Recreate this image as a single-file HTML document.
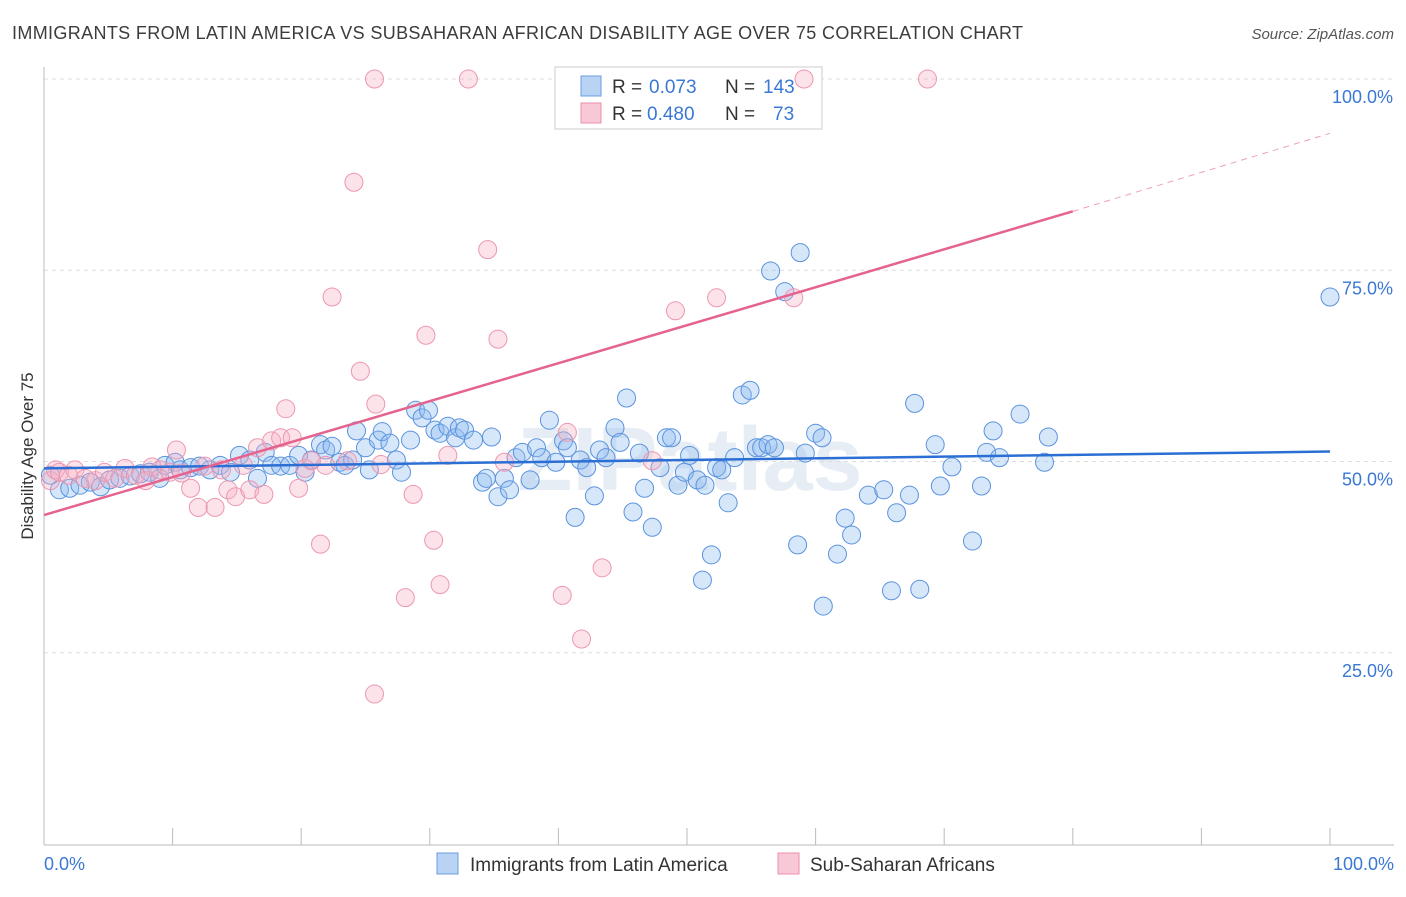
<!DOCTYPE html>
<html><head><meta charset="utf-8"><style>
body{margin:0;background:#fff;font-family:"Liberation Sans",sans-serif;}
svg text{font-family:"Liberation Sans",sans-serif;}
</style></head><body>
<svg id="chart" width="1406" height="892" xmlns="http://www.w3.org/2000/svg">
<text x="12" y="39" font-size="18" fill="#3c3c3c" textLength="1011">IMMIGRANTS FROM LATIN AMERICA VS SUBSAHARAN AFRICAN DISABILITY AGE OVER 75 CORRELATION CHART</text>
<text x="1394" y="39" font-size="15" fill="#555" text-anchor="end" font-style="italic">Source: ZipAtlas.com</text>
<text x="690" y="490" font-size="90" fill="#e6edf5" text-anchor="middle" font-weight="bold">ZIPatlas</text>
<g id="grid"></g>
<g id="axes"></g>
<g>
<rect x="555" y="67" width="267" height="62" fill="#fff" stroke="#ccc"/>
<rect x="581" y="76" width="20" height="20" fill="#b9d3f5" stroke="#6a9be0"/>
<rect x="581" y="103" width="20" height="20" fill="#f9c8d6" stroke="#eb8fab"/>
<text x="612" y="93" font-size="19" fill="#333">R =</text>
<text x="649" y="93" font-size="19" fill="#3a78d4">0.073</text>
<text x="725" y="93" font-size="19" fill="#333">N =</text>
<text x="763" y="93" font-size="19" fill="#3a78d4">143</text>
<text x="612" y="120" font-size="19" fill="#333">R =</text>
<text x="647" y="120" font-size="19" fill="#3a78d4">0.480</text>
<text x="725" y="120" font-size="19" fill="#333">N =</text>
<text x="773" y="120" font-size="19" fill="#3a78d4">73</text>
</g>
<g id="points"></g>
<g id="trends"></g>
<text transform="translate(33,456) rotate(-90)" font-size="17" fill="#333" text-anchor="middle">Disability Age Over 75</text>
<g>
<rect x="437" y="853" width="21" height="21" fill="#b9d3f5" stroke="#6a9be0"/>
<text x="470" y="871" font-size="19" fill="#333">Immigrants from Latin America</text>
<rect x="778" y="853" width="21" height="21" fill="#f9c8d6" stroke="#eb8fab"/>
<text x="810" y="871" font-size="19" fill="#333">Sub-Saharan Africans</text>
</g>
</svg>
<script>
const yTicks=[25,50,75,100];
const yTickLabels=["25.0%","50.0%","75.0%","100.0%"];
const xEndLabels=["0.0%","100.0%"];
const blueX=[0.5,1.2,2.0,2.8,3.6,4.4,5.1,5.9,6.7,7.5,8.2,9.0,9.4,10.2,10.6,11.4,12.1,12.9,13.7,14.5,15.2,16.0,16.6,17.2,17.7,18.4,19.1,19.8,20.3,20.8,21.5,21.9,22.4,23.0,23.4,24.0,24.3,25.0,25.3,26.0,26.3,26.9,27.4,27.8,28.5,28.9,29.4,29.9,30.4,30.8,31.4,32.0,32.3,32.7,33.4,34.1,34.4,34.8,35.3,35.8,36.2,36.7,37.2,37.8,38.3,38.7,39.3,39.8,40.4,40.7,41.3,41.7,42.2,42.8,43.2,43.7,44.4,44.8,45.3,45.8,46.3,46.7,47.3,47.9,48.4,48.8,49.3,49.8,50.2,50.8,51.2,51.4,51.9,52.3,52.7,53.2,53.7,54.3,54.9,55.4,55.8,56.3,56.5,56.8,57.6,58.6,58.8,59.2,60.0,60.5,60.6,61.7,62.3,62.8,64.1,65.3,65.9,66.3,67.3,67.7,68.1,69.3,69.7,70.6,72.2,72.9,73.3,73.8,74.3,75.9,77.8,78.1,100];
const blueY=[48.2,46.3,46.5,46.9,47.3,46.7,47.6,47.8,48.1,48.4,48.6,47.8,49.5,49.9,48.9,49.2,49.4,48.9,49.5,48.6,50.8,50.2,47.8,51.2,49.5,49.4,49.5,50.8,48.6,50.2,52.2,51.5,52.0,49.9,49.5,50.2,54.0,51.8,48.9,52.8,53.9,52.4,50.2,48.6,52.8,56.7,55.7,56.7,54.1,53.7,54.6,53.1,54.4,54.1,52.8,47.3,47.8,53.2,45.4,47.8,46.3,50.5,51.2,47.6,51.8,50.5,55.4,49.9,52.7,51.8,42.7,50.2,49.2,45.5,51.5,50.5,54.4,52.5,58.3,43.4,51.1,46.5,41.4,49.2,53.1,53.1,46.9,48.6,50.8,47.6,34.5,46.9,37.8,49.2,48.9,44.6,50.5,58.7,59.3,51.8,51.8,52.2,74.9,51.8,72.2,39.1,77.3,51.1,53.7,53.1,31.1,37.9,42.6,40.4,45.6,46.3,33.1,43.3,45.6,57.6,33.3,52.2,46.8,49.3,39.6,46.8,51.2,54.0,50.5,56.2,49.9,53.2,71.5];
const pinkX=[0.5,0.9,1.2,1.9,2.4,3.2,4,4.7,5.5,6.3,7.1,7.9,8.4,9,9.8,10.3,10.7,11.4,12,12.5,13.3,13.8,14.3,14.9,15.5,16,16.6,17.1,17.7,18.4,18.8,19.3,19.8,20.3,20.8,21.5,21.9,22.4,23.6,24.1,24.6,25.7,25.7,25.8,26.2,28.1,28.7,29.7,30.3,30.8,31.4,33.0,34.5,35.3,35.8,40.3,40.7,41.8,43.4,47.3,49.1,52.3,58.3,59.1,68.7];
const pinkY=[47.5,48.9,48.6,48.2,48.9,47.8,47.5,48.6,47.8,49.1,48.2,47.5,49.3,48.9,48.6,51.5,48.5,46.5,44,49.4,44,48.9,46.3,45.4,49.5,46.3,51.8,45.7,52.7,53.1,56.9,53.1,46.5,49.1,50.1,39.2,49.5,71.5,50.1,86.5,61.8,100,19.6,57.5,49.6,32.2,45.7,66.5,39.7,33.9,50.8,100,77.7,66,49.9,32.5,53.8,26.8,36.1,50.1,69.7,71.4,71.4,100,100];
const blueTrend=[49.1,51.3];
const pinkTrendPts=[[0,43],[80,82.7],[100,92.9]];
const X=v=>44+v*12.86, Y=v=>844-v*7.65;
const NS='http://www.w3.org/2000/svg';
function mk(t,a,p){const e=document.createElementNS(NS,t);for(const k in a)e.setAttribute(k,a[k]);document.getElementById(p).appendChild(e);return e;}
yTicks.forEach((t,i)=>{
 const l=mk('line',{x1:44,x2:1394,y1:Y(t),y2:Y(t),stroke:'#ddd','stroke-dasharray':'4,4'},'grid');
 
 
 const tx=mk('text',{x:1393,y:Y(t)+24,'font-size':18,fill:'#3a78d4','text-anchor':'end'},'axes');
 tx.textContent=yTickLabels[i];
 
 
});
const topLine=mk('line',{x1:44,x2:1394,y1:79,y2:79,stroke:'#ddd','stroke-dasharray':'4,4'},'grid');


const ya=mk('line',{x1:44,x2:44,y1:67,y2:845,stroke:'#bbb'},'axes');


const xa=mk('line',{x1:44,x2:1394,y1:845,y2:845,stroke:'#bbb'},'axes');


for(let i=0;i<=10;i++){
 const tk=mk('line',{x1:X(i*10),x2:X(i*10),y1:828,y2:845,stroke:'#bbb'},'axes');
 
 
}
[[0,'start',44],[100,'end',1394]].forEach((d,i)=>{
 const t=mk('text',{x:d[2],y:870,'font-size':18,fill:'#3a78d4','text-anchor':d[1]},'axes');
 t.textContent=xEndLabels[i];
 
 
});
blueX.forEach((v,i)=>{
 const c=mk('circle',{cx:X(v),cy:Y(blueY[i]),r:9,fill:'rgba(140,185,240,0.35)',stroke:'#5b93dd','stroke-width':1},'points');
 
 
});
pinkX.forEach((v,i)=>{
 const c=mk('circle',{cx:X(v),cy:Y(pinkY[i]),r:9,fill:'rgba(245,175,195,0.35)',stroke:'#ec97b0','stroke-width':1},'points');
 
 
});
const bt=mk('line',{x1:X(0),y1:Y(blueTrend[0]),x2:X(100),y2:Y(blueTrend[1]),stroke:'#2c6fd4','stroke-width':2.5},'trends');


const p=pinkTrendPts;
const pt=mk('line',{x1:X(p[0][0]),y1:Y(p[0][1]),x2:X(p[1][0]),y2:Y(p[1][1]),stroke:'#e5638f','stroke-width':2.5},'trends');


const pd=mk('line',{x1:X(p[1][0]),y1:Y(p[1][1]),x2:X(p[2][0]),y2:Y(p[2][1]),stroke:'#eea0b8','stroke-width':1,'stroke-dasharray':'6,5'},'trends');


</script>
</body></html>
